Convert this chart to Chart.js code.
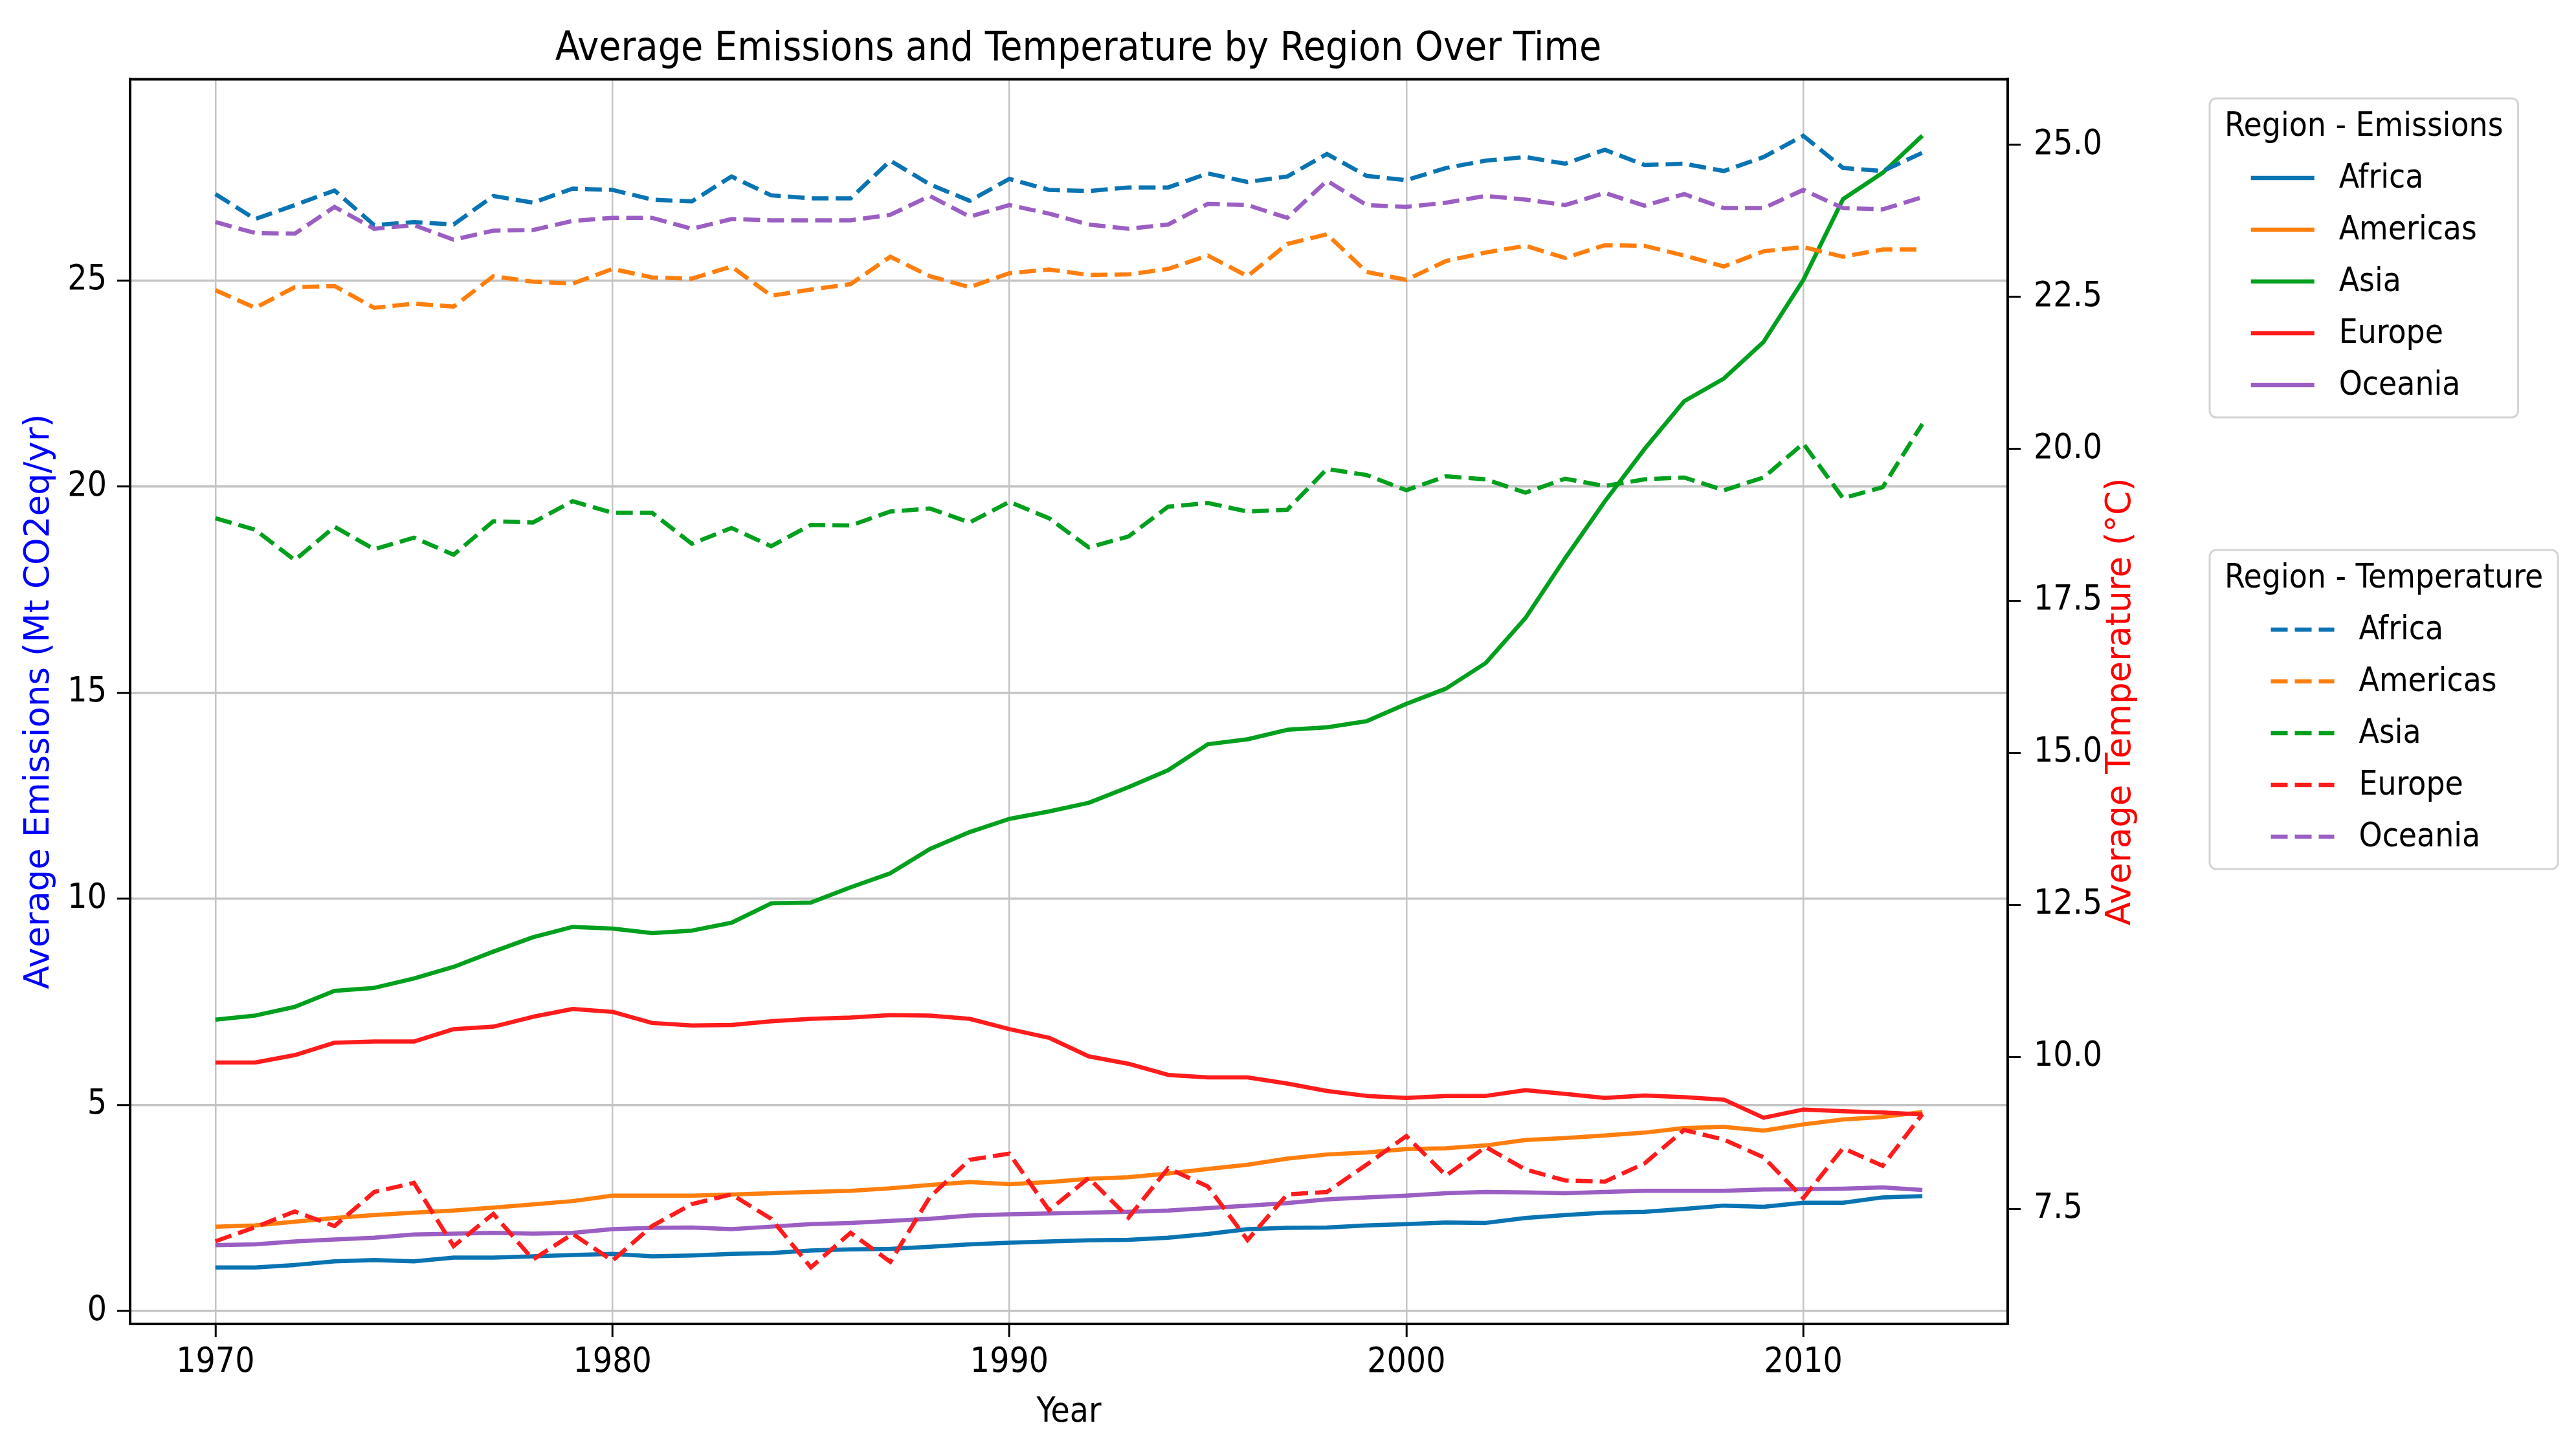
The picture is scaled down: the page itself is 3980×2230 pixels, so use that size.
<!DOCTYPE html>
<html>
<head>
<meta charset="utf-8">
<title>Average Emissions and Temperature by Region Over Time</title>
<script src="https://cdn.jsdelivr.net/npm/chart.js@4.4.1/dist/chart.umd.min.js"></script>
<style>
  html, body { margin: 0; padding: 0; background: #ffffff; }
  #wrap { width: 3980px; height: 2230px; }
</style>
</head>
<body>
<div id="wrap"><canvas id="chart" width="3980" height="2230"></canvas></div>
<script>
// Years and tick labels
const years = [1970, 1971, 1972, 1973, 1974, 1975, 1976, 1977, 1978, 1979,
               1980, 1981, 1982, 1983, 1984, 1985, 1986, 1987, 1988, 1989,
               1990, 1991, 1992, 1993, 1994, 1995, 1996, 1997, 1998, 1999,
               2000, 2001, 2002, 2003, 2004, 2005, 2006, 2007, 2008, 2009,
               2010, 2011, 2012, 2013];
const xTicks = [1970, 1980, 1990, 2000, 2010];
const emisTicks = [0, 5, 10, 15, 20, 25];
const tempTicks = [7.5, 10.0, 12.5, 15.0, 17.5, 20.0, 22.5, 25.0];

const regions = ['Africa', 'Americas', 'Asia', 'Europe', 'Oceania'];
const regionColors = ['#0a74b3', '#ff7f0e', '#00a01e', '#ff1c1c', '#9b5fc3'];

// Average emissions (Mt CO2eq/yr)
const africaEmis = [1.06, 1.06, 1.12, 1.21, 1.24, 1.21, 1.30, 1.30, 1.33, 1.36,
                    1.39, 1.33, 1.35, 1.39, 1.41, 1.47, 1.50, 1.51, 1.56, 1.62,
                    1.66, 1.69, 1.72, 1.73, 1.78, 1.87, 1.99, 2.02, 2.03, 2.08,
                    2.11, 2.15, 2.14, 2.26, 2.33, 2.39, 2.41, 2.48, 2.56, 2.53,
                    2.63, 2.63, 2.76, 2.79];
const americasEmis = [2.05, 2.08, 2.17, 2.26, 2.33, 2.39, 2.44, 2.51, 2.59, 2.67,
                      2.80, 2.80, 2.80, 2.83, 2.86, 2.89, 2.92, 2.98, 3.06, 3.13,
                      3.08, 3.13, 3.21, 3.25, 3.34, 3.45, 3.55, 3.70, 3.80, 3.85,
                      3.93, 3.95, 4.02, 4.15, 4.20, 4.26, 4.33, 4.44, 4.47, 4.38,
                      4.53, 4.65, 4.71, 4.83];
const asiaEmis = [7.07, 7.17, 7.38, 7.77, 7.84, 8.07, 8.35, 8.72, 9.07, 9.32,
                  9.28, 9.17, 9.23, 9.42, 9.89, 9.91, 10.28, 10.62, 11.21, 11.62,
                  11.94, 12.12, 12.33, 12.71, 13.12, 13.75, 13.87, 14.10, 14.16, 14.31,
                  14.73, 15.10, 15.72, 16.81, 18.26, 19.64, 20.91, 22.07, 22.62, 23.51,
                  25.01, 26.97, 27.61, 28.51];
const europeEmis = [6.03, 6.03, 6.21, 6.51, 6.54, 6.54, 6.84, 6.90, 7.14, 7.33,
                    7.26, 6.99, 6.93, 6.94, 7.03, 7.09, 7.12, 7.18, 7.17, 7.09,
                    6.84, 6.63, 6.18, 6.00, 5.73, 5.67, 5.67, 5.52, 5.34, 5.22,
                    5.17, 5.22, 5.22, 5.36, 5.27, 5.17, 5.23, 5.19, 5.13, 4.69,
                    4.89, 4.85, 4.82, 4.77];
const oceaniaEmis = [1.60, 1.62, 1.69, 1.74, 1.78, 1.86, 1.88, 1.90, 1.88, 1.90,
                     1.99, 2.02, 2.03, 1.99, 2.05, 2.11, 2.14, 2.19, 2.24, 2.32,
                     2.35, 2.37, 2.39, 2.41, 2.44, 2.50, 2.56, 2.62, 2.71, 2.76,
                     2.80, 2.86, 2.89, 2.88, 2.86, 2.89, 2.92, 2.92, 2.92, 2.95,
                     2.96, 2.97, 3.00, 2.94];

// Average temperature (°C)
const africaTemp = [24.19, 23.78, 24.01, 24.25, 23.68, 23.73, 23.69, 24.16, 24.05, 24.28,
                    24.26, 24.10, 24.07, 24.48, 24.17, 24.12, 24.12, 24.74, 24.35, 24.08,
                    24.44, 24.26, 24.24, 24.30, 24.30, 24.53, 24.39, 24.48, 24.85, 24.49,
                    24.42, 24.62, 24.74, 24.80, 24.69, 24.92, 24.67, 24.69, 24.57, 24.80,
                    25.15, 24.62, 24.57, 24.87];
const americasTemp = [22.61, 22.32, 22.66, 22.68, 22.32, 22.39, 22.34, 22.84, 22.75, 22.72,
                      22.96, 22.82, 22.80, 23.00, 22.52, 22.62, 22.71, 23.16, 22.84, 22.66,
                      22.89, 22.95, 22.86, 22.87, 22.96, 23.18, 22.84, 23.37, 23.53, 22.91,
                      22.78, 23.09, 23.23, 23.34, 23.14, 23.35, 23.34, 23.18, 23.00, 23.25,
                      23.32, 23.16, 23.28, 23.28];
const asiaTemp = [18.86, 18.67, 18.17, 18.72, 18.35, 18.54, 18.26, 18.81, 18.79, 19.14,
                  18.95, 18.95, 18.44, 18.70, 18.40, 18.75, 18.74, 18.97, 19.02, 18.79,
                  19.13, 18.86, 18.38, 18.56, 19.05, 19.11, 18.97, 19.00, 19.67, 19.57,
                  19.32, 19.55, 19.50, 19.28, 19.51, 19.39, 19.50, 19.53, 19.32, 19.53,
                  20.09, 19.19, 19.37, 20.41];
const europeTemp = [6.97, 7.20, 7.46, 7.22, 7.78, 7.93, 6.89, 7.42, 6.67, 7.09,
                    6.65, 7.22, 7.58, 7.74, 7.34, 6.54, 7.11, 6.63, 7.70, 8.31,
                    8.41, 7.48, 8.01, 7.36, 8.17, 7.87, 6.99, 7.74, 7.78, 8.23,
                    8.70, 8.05, 8.52, 8.15, 7.97, 7.95, 8.25, 8.80, 8.64, 8.35,
                    7.68, 8.50, 8.21, 9.06];
const oceaniaTemp = [23.73, 23.55, 23.54, 23.98, 23.62, 23.68, 23.44, 23.59, 23.60, 23.75,
                     23.80, 23.80, 23.62, 23.78, 23.76, 23.76, 23.76, 23.85, 24.16, 23.82,
                     24.01, 23.87, 23.69, 23.62, 23.69, 24.03, 24.01, 23.80, 24.41, 24.01,
                     23.98, 24.05, 24.16, 24.10, 24.01, 24.21, 24.00, 24.19, 23.96, 23.96,
                     24.26, 23.96, 23.94, 24.14];

const emissionSeries = [africaEmis, americasEmis, asiaEmis, europeEmis, oceaniaEmis];
const temperatureSeries = [africaTemp, americasTemp, asiaTemp, europeTemp, oceaniaTemp];

const FONT_FAMILY = "'DejaVu Sans Condensed', 'DejaVu Sans', sans-serif";
const ROT_FAMILY = "'DejaVu Sans', sans-serif";
const LINE_W = 6.5;
const DASH = [26, 11];

function toPoints(values) {
    return values.map((v, i) => ({ x: years[i], y: v }));
}

// Build datasets: temperature lines are drawn above the emission lines
const datasets = [];
regions.forEach((name, i) => {
    datasets.push({
        label: name,
        group: 'emissions',
        data: toPoints(emissionSeries[i]),
        yAxisID: 'y',
        borderColor: regionColors[i],
        borderWidth: LINE_W,
        pointRadius: 0,
        tension: 0,
        borderJoinStyle: 'round',
        order: 10 - i
    });
});
regions.forEach((name, i) => {
    datasets.push({
        label: name,
        group: 'temperature',
        data: toPoints(temperatureSeries[i]),
        yAxisID: 'y1',
        borderColor: regionColors[i],
        borderWidth: LINE_W,
        borderDash: DASH,
        pointRadius: 0,
        tension: 0,
        order: 5 - i
    });
});

// Top spine, right axis title and the two legend boxes
const extrasPlugin = {
    id: 'extras',
    afterDraw(chart) {
        const ctx = chart.ctx;
        const area = chart.chartArea;
        ctx.save();

        ctx.strokeStyle = '#000000';
        ctx.lineWidth = 4;
        ctx.beginPath();
        ctx.moveTo(area.left - 2, area.top);
        ctx.lineTo(area.right + 2, area.top);
        ctx.stroke();

        // right axis title, reading bottom to top like the left one
        const rScale = chart.scales.y1;
        ctx.fillStyle = '#ff0000';
        ctx.font = '53px ' + ROT_FAMILY;
        ctx.textAlign = 'center';
        ctx.textBaseline = 'middle';
        ctx.translate(rScale.left + 175, (area.top + area.bottom) / 2);
        ctx.rotate(-Math.PI / 2);
        ctx.fillText('Average Temperature (°C)', 0, 0);
        ctx.restore();

        const emisItems = chart.data.datasets.filter(d => d.group === 'emissions');
        const tempItems = chart.data.datasets.filter(d => d.group === 'temperature');
        drawLegendBox(ctx, 3414, 152, 'Region - Emissions', emisItems, false);
        drawLegendBox(ctx, 3414, 850, 'Region - Temperature', tempItems, true);
    }
};

function drawLegendBox(ctx, left, top, title, items, dashed) {
    ctx.save();
    ctx.font = '51px ' + FONT_FAMILY;
    const titleW = ctx.measureText(title).width;
    const lineLen = 98;
    const gap = 38;
    const textW = Math.max(...items.map(d => ctx.measureText(d.label).width));
    const blockW = lineLen + gap + textW;
    const inner = Math.max(titleW, blockW);
    const padX = 23;
    const boxW = inner + 2 * padX;
    const boxH = 45 + 78 + (items.length - 1) * 80 + 50;

    ctx.beginPath();
    ctx.roundRect(left, top, boxW, boxH, 10);
    ctx.fillStyle = 'rgba(255,255,255,0.85)';
    ctx.fill();
    ctx.strokeStyle = '#d4d4d4';
    ctx.lineWidth = 3;
    ctx.stroke();

    ctx.fillStyle = '#000000';
    ctx.textBaseline = 'middle';
    ctx.textAlign = 'center';
    ctx.fillText(title, left + boxW / 2, top + 45);

    const blockLeft = left + padX + (inner - blockW) / 2;
    ctx.textAlign = 'left';
    items.forEach((d, i) => {
        const y = top + 123 + i * 80;
        ctx.strokeStyle = d.borderColor;
        ctx.lineWidth = LINE_W;
        ctx.setLineDash(dashed ? DASH : []);
        ctx.beginPath();
        ctx.moveTo(blockLeft, y);
        ctx.lineTo(blockLeft + lineLen, y);
        ctx.stroke();
        ctx.setLineDash([]);
        ctx.fillText(d.label, blockLeft + lineLen + gap, y + 2);
    });
    ctx.restore();
}

function setTicks(values) {
    return function(scale) {
        scale.ticks = values.map(v => ({ value: v }));
    };
}

const tickFont = { family: FONT_FAMILY, size: 53, lineHeight: 1.2 };
const rotFont = { family: ROT_FAMILY, size: 53, lineHeight: 1.2 };

new Chart(document.getElementById('chart'), {
    type: 'line',
    data: { datasets: datasets },
    plugins: [extrasPlugin],
    options: {
        responsive: false,
        animation: false,
        devicePixelRatio: 1,
        layout: { padding: { left: 0, right: 648, top: 0, bottom: 0 } },
        plugins: {
            legend: { display: false },
            tooltip: { enabled: false },
            title: {
                display: true,
                text: 'Average Emissions and Temperature by Region Over Time',
                color: '#000000',
                font: { family: FONT_FAMILY, size: 62, weight: 'normal', lineHeight: 1.2 },
                padding: { top: 40, bottom: 8 }
            }
        },
        scales: {
            x: {
                type: 'linear',
                min: 1967.85,
                max: 2015.15,
                afterBuildTicks: setTicks(xTicks),
                afterFit: function(scale) { scale.height = 184; },
                ticks: {
                    color: '#000000',
                    font: tickFont,
                    padding: 8,
                    callback: v => String(v)
                },
                grid: {
                    color: '#c4c4c4',
                    lineWidth: 2.5,
                    tickColor: '#000000',
                    tickWidth: 3,
                    tickLength: 20
                },
                border: { color: '#000000', width: 4 },
                title: {
                    display: true,
                    text: 'Year',
                    color: '#000000',
                    font: tickFont,
                    padding: { top: 0, bottom: 15 }
                }
            },
            y: {
                type: 'linear',
                position: 'left',
                min: -0.31,
                max: 29.88,
                afterBuildTicks: setTicks(emisTicks),
                afterFit: function(scale) { scale.width = 201; },
                ticks: {
                    color: '#000000',
                    font: tickFont,
                    padding: 16,
                    callback: v => String(v)
                },
                grid: {
                    color: '#c4c4c4',
                    lineWidth: 3.5,
                    tickColor: '#000000',
                    tickWidth: 3,
                    tickLength: 20
                },
                border: { color: '#000000', width: 4 },
                title: {
                    display: true,
                    text: 'Average Emissions (Mt CO2eq/yr)',
                    color: '#0000ff',
                    font: rotFont,
                    padding: { top: 29, bottom: 0 }
                }
            },
            y1: {
                type: 'linear',
                position: 'right',
                min: 5.61,
                max: 26.08,
                afterBuildTicks: setTicks(tempTicks),
                afterFit: function(scale) { scale.width = 230; },
                ticks: {
                    color: '#000000',
                    font: tickFont,
                    padding: 20,
                    callback: v => v.toFixed(1)
                },
                grid: {
                    drawOnChartArea: false,
                    tickColor: '#000000',
                    tickWidth: 3,
                    tickLength: 20
                },
                border: { color: '#000000', width: 4 }
            }
        }
    }
});
</script>
</body>
</html>
